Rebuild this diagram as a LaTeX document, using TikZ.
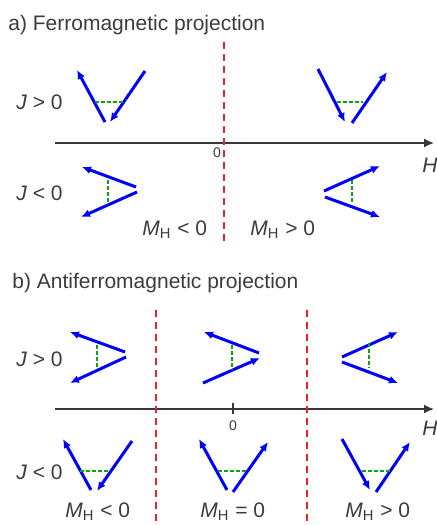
\documentclass[tikz,border=0pt]{standalone}
\usepackage{fontspec}
\setmainfont{Liberation Sans}
\usepackage{xcolor}
\usetikzlibrary{arrows.meta}

\definecolor{spinblue}{RGB}{0,0,250}
\definecolor{wallred}{RGB}{235,35,40}
\definecolor{bondgreen}{RGB}{20,160,20}
\definecolor{axisgray}{RGB}{55,55,55}
\definecolor{labelgray}{RGB}{60,60,60}

\begin{document}
\begin{tikzpicture}[x=0.5pt, y=-0.5pt, font={\fontsize{10.5}{12}\selectfont}, text=labelgray,
  spin/.style={spinblue, line width=1.5pt, -{Latex[length=4.5pt,width=4pt]}},
  bond/.style={bondgreen, line width=1pt, dash pattern=on 2pt off 1pt},
  wall/.style={wallred, line width=1pt, dash pattern=on 3.5pt off 2.5pt},
  field/.style={axisgray, line width=0.8pt, -{Latex[length=5pt,width=4.5pt]}},
  zero/.style={font={\fontsize{7}{8}\selectfont}}]
\useasboundingbox (0,0) rectangle (436,525);

% a) ferromagnetic projection
\node[anchor=base west, inner sep=0pt] (titleA) at (8,30) {a) Ferromagnetic projection};
\coordinate (axAl) at (55,143);
\coordinate (axAr) at (434,143);
\draw[field] (axAl) -- (axAr);
\draw[wall] (224,42) -- (224,245);
\node[zero] (zeroA) at (217,153) {0};
\node[anchor=base west, inner sep=0pt] (hA) at (422,172) {\textit{H}};
\node[anchor=base west, inner sep=0pt] (jposA) at (16,109.5) {\textit{J} > 0};
\node[anchor=base west, inner sep=0pt] (jnegA) at (16,200.5) {\textit{J} < 0};
\node[anchor=base west, inner sep=0pt] (mnegA) at (142,235) {\textit{M}\textsubscript{H} < 0};
\node[anchor=base west, inner sep=0pt] (mposA) at (250,235) {\textit{M}\textsubscript{H} > 0};
% J > 0, M < 0
\draw[spin] (105,122) -- (77,70);
\draw[spin] (145,71) -- (110,122);
\draw[bond] (95,102) -- (123,102);
% J > 0, M > 0
\draw[spin] (318,69) -- (345,122);
\draw[spin] (352,123) -- (387,72);
\draw[bond] (337,102) -- (363,102);
% J < 0, M < 0
\draw[spin] (136,187) -- (82,167);
\draw[spin] (137,192) -- (81,217);
\draw[bond] (108,180) -- (108,203);
% J < 0, M > 0
\draw[spin] (324,191) -- (380,166);
\draw[spin] (325,197) -- (380,217);
\draw[bond] (352,180) -- (352,203);

% b) antiferromagnetic projection
\node[anchor=base west, inner sep=0pt] (titleB) at (12,288) {b) Antiferromagnetic projection};
\coordinate (axBl) at (55,409);
\coordinate (axBr) at (434,409);
\draw[field] (axBl) -- (axBr);
\draw[axisgray, line width=0.9pt] (233,403) -- (233,414);
\draw[wall] (156,310) -- (156,525);
\draw[wall] (307,310) -- (307,525);
\node[zero] (zeroB) at (233,426) {0};
\node[anchor=base west, inner sep=0pt] (hB) at (422,435) {\textit{H}};
\node[anchor=base west, inner sep=0pt] (jposB) at (16,366.5) {\textit{J} > 0};
\node[anchor=base west, inner sep=0pt] (jnegB) at (16,479.5) {\textit{J} < 0};
\node[anchor=base west, inner sep=0pt] (mnegB) at (65,517) {\textit{M}\textsubscript{H} < 0};
\node[anchor=base west, inner sep=0pt] (mnulB) at (200,517) {\textit{M}\textsubscript{H} = 0};
\node[anchor=base west, inner sep=0pt] (mposB) at (345,517) {\textit{M}\textsubscript{H} > 0};
% J > 0 row
\draw[spin] (125,352) -- (70,332);
\draw[spin] (126,357) -- (70,383);
\draw[bond] (97,345) -- (97,368);
\draw[spin] (259,353) -- (204,332);
\draw[spin] (203,383) -- (260,358);
\draw[bond] (232,345) -- (232,370);
\draw[spin] (342,357) -- (398,332);
\draw[spin] (342,362) -- (398,383);
\draw[bond] (369,343) -- (369,368);
% J < 0 row
\draw[spin] (91,490) -- (63,439);
\draw[spin] (132,441) -- (97,491);
\draw[bond] (80,471) -- (110,471);
\draw[spin] (227,490) -- (199,439);
\draw[spin] (233,492) -- (268,442);
\draw[bond] (218,471) -- (247,471);
\draw[spin] (342,439) -- (370,490);
\draw[spin] (376,492) -- (410,442);
\draw[bond] (362,471) -- (390,471);
\end{tikzpicture}
\end{document}
